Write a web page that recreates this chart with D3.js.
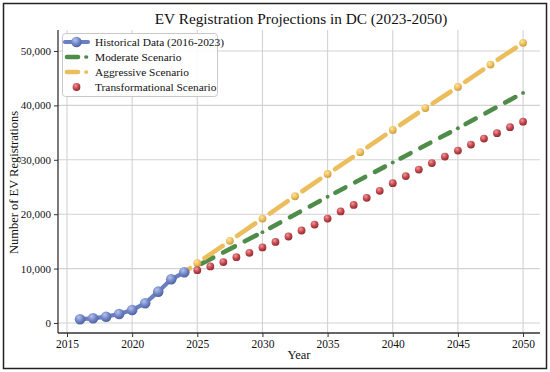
<!DOCTYPE html>
<html><head><meta charset="utf-8">
<script src="https://cdn.jsdelivr.net/npm/d3@7"></script>
<style>body{margin:0;background:#fff}svg{display:block}text{font-family:"Liberation Serif","DejaVu Serif",serif;fill:#111}</style>
</head><body><svg id="c" width="550" height="372"></svg>
<script>
const histYears=[2016,2017,2018,2019,2020,2021,2022,2023,2024];
const histValues=[700,860,1160,1650,2390,3620,5760,8030,9320];
const modYears=[2025,2030,2035,2040,2045,2050];
const modValues=[10500,16700,23200,29500,35800,42300];
const aggYears=[2024,2025,2027.5,2030,2032.5,2035,2037.5,2040,2042.5,2045,2047.5,2050];
const aggValues=[9320,11000,15100,19200,23300,27400,31400,35500,39500,43400,47500,51500];
const trYears=[2025,2026,2027,2028,2029,2030,2031,2032,2033,2034,2035,2036,2037,2038,2039,2040,2041,2042,2043,2044,2045,2046,2047,2048,2049,2050];
const trValues=[9700,10400,11200,12100,12900,13900,14900,15900,17000,18100,19200,20500,21700,23000,24300,25700,27000,28200,29400,30600,31700,32800,33900,34900,36000,37000];
const xTicks=[2015,2020,2025,2030,2035,2040,2045,2050];
const yTicks=[0,10000,20000,30000,40000,50000];
const legendLabels=["Historical Data (2016-2023)","Moderate Scenario","Aggressive Scenario","Transformational Scenario"];
const title="EV Registration Projections in DC (2023-2050)";

const svg=d3.select("#c");
const L=58,R=540,T=30,B=333;
const x=d3.scaleLinear().domain([2014.31,2051.3]).range([L,R]);
const y=d3.scaleLinear().domain([-1840,53860]).range([B,T]);

const defs=svg.append("defs");
function grad(id,light,base,dark){
  const g=defs.append("radialGradient").attr("id",id).attr("cx","0.38").attr("cy","0.32").attr("r","0.7");
  g.append("stop").attr("offset","0%").attr("stop-color",light);
  g.append("stop").attr("offset","55%").attr("stop-color",base);
  g.append("stop").attr("offset","100%").attr("stop-color",dark);
}
grad("gb","#b5c2ec","#7186c6","#4d5f9c");
grad("gy","#fbe3a4","#eebf5c","#c99a3a");
grad("gr","#ec9a9c","#c5474d","#8f2a30");

svg.append("rect").attr("x",3.5).attr("y",3.5).attr("width",543).attr("height",365)
  .attr("fill","#fff").attr("stroke","#222").attr("stroke-width",1.5);

const g=svg.append("g");
g.selectAll(".vg").data(xTicks).join("line").attr("x1",d=>x(d)).attr("x2",d=>x(d)).attr("y1",T).attr("y2",B)
  .attr("stroke","#d2d2d2").attr("stroke-width",1.1);
g.selectAll(".hg").data(yTicks).join("line").attr("x1",L).attr("x2",R).attr("y1",d=>y(d)).attr("y2",d=>y(d))
  .attr("stroke","#d2d2d2").attr("stroke-width",1.1);

const xa=svg.append("g").attr("transform",`translate(0,${B})`)
  .call(d3.axisBottom(x).tickValues(xTicks).tickFormat(d3.format("d")).tickSize(4).tickPadding(3));
const ya=svg.append("g").attr("transform",`translate(${L},0)`)
  .call(d3.axisLeft(y).tickValues(yTicks).tickFormat(d3.format(",")).tickSize(4).tickPadding(3));
[xa,ya].forEach(a=>{
  a.select(".domain").remove();
  a.selectAll("line").attr("stroke","#333").attr("stroke-width",1);
  a.selectAll("text").attr("fill","#111").style("font-family",'"Liberation Serif",serif');
});
xa.selectAll("text").attr("font-size",11.5);
ya.selectAll("text").attr("font-size",11);
svg.append("line").attr("x1",L).attr("x2",L).attr("y1",T).attr("y2",B).attr("stroke","#333").attr("stroke-width",1.3);
svg.append("line").attr("x1",L).attr("x2",R).attr("y1",B).attr("y2",B).attr("stroke","#333").attr("stroke-width",1.3);

function seg(sel,p,q,t0,t1,color,w){
  sel.append("line").attr("x1",p[0]+(q[0]-p[0])*t0).attr("y1",p[1]+(q[1]-p[1])*t0)
    .attr("x2",p[0]+(q[0]-p[0])*t1).attr("y2",p[1]+(q[1]-p[1])*t1)
    .attr("stroke",color).attr("stroke-width",w).attr("stroke-linecap","round");
}
const gm=svg.append("g");
const gc="#4f8c4a", gw=4.6;
const mp=modYears.map((d,i)=>[x(d),y(modValues[i])]);
for(let i=0;i<mp.length-1;i++){
  const p=mp[i],q=mp[i+1];
  const len=Math.hypot(q[0]-p[0],q[1]-p[1]);
  const gap=6.5, cap=gw/2;
  const first=(i===0);
  const dashTotal=(len-(first?3:4)*gap)/3;
  let s=first?cap:gap;
  for(let k=0;k<3;k++){
    seg(gm,p,q,(s+cap)/len,(s+dashTotal-cap)/len,gc,gw);
    s+=dashTotal+gap;
  }
  seg(gm,q,q,0,0,gc,gw*0.85);
}
const ga=svg.append("g");
const yc="#ecbd5c", yw=4.6;
const ap=aggYears.map((d,i)=>[x(d),y(aggValues[i])]);
for(let i=0;i<ap.length-1;i++){
  const p=ap[i],q=ap[i+1];
  const len=Math.hypot(q[0]-p[0],q[1]-p[1]);
  const off=8.8;
  seg(ga,p,q,(i===0?0:off)/len,(len-off)/len,yc,yw);
}
ga.selectAll("circle").data(aggYears.slice(1)).join("circle")
  .attr("cx",d=>x(d)).attr("cy",(d,i)=>y(aggValues[i+1])).attr("r",3.9).attr("fill","url(#gy)");
svg.append("g").selectAll("circle").data(trYears).join("circle")
  .attr("cx",d=>x(d)).attr("cy",(d,i)=>y(trValues[i])).attr("r",3.9).attr("fill","url(#gr)");
const line=d3.line().x(d=>x(d[0])).y(d=>y(d[1]));
svg.append("path").datum(histYears.map((d,i)=>[d,histValues[i]])).attr("d",line)
  .attr("fill","none").attr("stroke","#6a7fc0").attr("stroke-width",4.2).attr("stroke-linejoin","round");
svg.append("g").selectAll("circle").data(histYears).join("circle")
  .attr("cx",d=>x(d)).attr("cy",(d,i)=>y(histValues[i])).attr("r",5.3).attr("fill","url(#gb)");

const lg=svg.append("g");
lg.append("rect").attr("x",62.5).attr("y",33.5).attr("width",155).attr("height",63).attr("rx",3)
  .attr("fill","#fff").attr("fill-opacity",0.9).attr("stroke","#c8c8c8").attr("stroke-width",1);
const ly=[42,57,72,87];
seg(lg,[65,ly[0]],[88,ly[0]],0,1,"#6a7fc0",4.2);
lg.append("circle").attr("cx",76.5).attr("cy",ly[0]).attr("r",5.3).attr("fill","url(#gb)");
seg(lg,[67,ly[1]],[78,ly[1]],0,1,gc,gw);
seg(lg,[86,ly[1]],[86.5,ly[1]],0,1,gc,gw*0.8);
seg(lg,[67,ly[2]],[78,ly[2]],0,1,yc,yw);
seg(lg,[86,ly[2]],[86.5,ly[2]],0,1,yc,yw*0.8);
lg.append("circle").attr("cx",76.5).attr("cy",ly[3]).attr("r",3.9).attr("fill","url(#gr)");
lg.selectAll("text").data(legendLabels).join("text").attr("x",95).attr("y",(d,i)=>ly[i]+4)
  .attr("font-size",11.4).text(d=>d);

svg.append("text").attr("x",301).attr("y",23.5).attr("text-anchor","middle").attr("font-size",15.3).text(title);
svg.append("text").attr("x",299).attr("y",359).attr("text-anchor","middle").attr("font-size",12.5).text("Year");
svg.append("text").attr("transform","translate(18,182.5) rotate(-90)").attr("text-anchor","middle").attr("font-size",12.5).text("Number of EV Registrations");
</script></body></html>
